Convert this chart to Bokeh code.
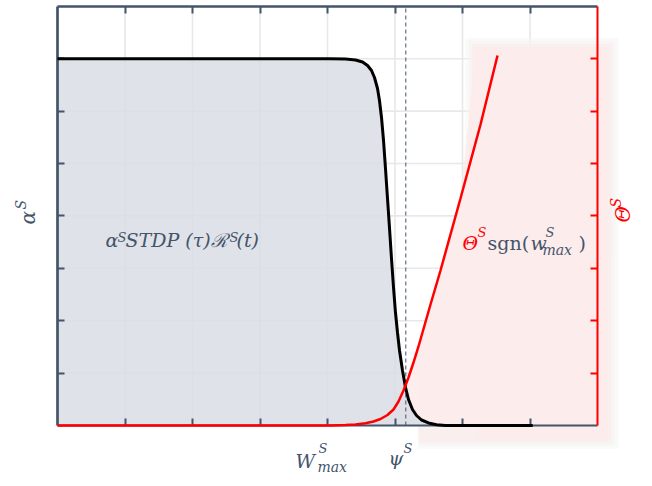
from bokeh.plotting import figure
from bokeh.models import LinearAxis, FixedTicker, Label, Range1d, Grid
from bokeh.embed import file_html
from bokeh.resources import INLINE

# --- values ---------------------------------------------------------------
# STDP amplitude curve (black): plateau, then a steep fall around psi
alpha_x = [0.0, 4.04, 4.267, 4.415, 4.519, 4.593, 4.652, 4.696, 4.741, 4.770,
           4.800, 4.830, 4.859, 4.889, 4.919, 4.948, 4.978, 5.007, 5.037,
           5.067, 5.111, 5.156, 5.200, 5.259, 5.319, 5.393, 5.496, 5.615,
           5.748, 7.04]
alpha_y = [7.0, 7.0, 6.994, 6.975, 6.937, 6.870, 6.775, 6.641, 6.431, 6.202,
           5.878, 5.439, 4.905, 4.332, 3.760, 3.187, 2.634, 2.156, 1.775,
           1.431, 1.050, 0.725, 0.496, 0.305, 0.191, 0.105, 0.048, 0.013,
           0.0, 0.0]

# Theta curve (red): zero, soft knee, then linear growth
theta_x = [0.0, 4.04, 4.267, 4.415, 4.563, 4.681, 4.785, 4.889, 4.978, 5.052,
           5.126, 5.200, 5.274, 5.348, 5.437, 5.526, 5.674, 5.970, 6.267,
           6.519]
theta_y = [0.0, 0.0, 0.008, 0.019, 0.042, 0.076, 0.124, 0.200, 0.305, 0.458,
           0.668, 0.916, 1.202, 1.508, 1.908, 2.309, 2.958, 4.332, 5.744,
           7.061]

psi = 5.16                     # threshold marker
grid_ticks = [1, 2, 3, 4, 5, 6, 7]
box = (0, 8)                   # extent of the framed panel (both axes)

SLATE = "#44546a"
RED = "#ff0000"
SERIF = "DejaVu Serif"

W, H = 652, 486
# pixel layout of the framed panel inside the canvas
X0, SX = 57.0, 67.5            # left edge, pixels per x unit
Y0, SY = 425.0, 52.4           # bottom edge, pixels per y unit

p = figure(width=W, height=H, title=None,
           x_range=Range1d(-X0 / SX, (W - X0) / SX),
           y_range=Range1d((Y0 - H) / SY, Y0 / SY),
           output_backend="svg", toolbar_location=None,
           x_axis_location=None, y_axis_location=None, min_border=0)
p.outline_line_color = None
p.background_fill_color = "white"
p.border_fill_color = "white"
# no full-canvas grid; the panel grid is drawn below
for r in list(p.center):
    if isinstance(r, Grid):
        r.visible = False

# light grid limited to the panel
p.segment(x0=grid_ticks, y0=[box[0]] * 7, x1=grid_ticks, y1=[box[1]] * 7,
          line_color="#e8e8e8", line_width=1.6)
p.segment(x0=[box[0]] * 7, y0=grid_ticks, x1=[box[1]] * 7, y1=grid_ticks,
          line_color="#e8e8e8", line_width=1.6)

# pink zone: below the Theta curve plus the band to its right
zone_left, zone_top, zone_right, zone_bottom = 6.2, 7.21, 8.15, -0.25
zx = [x for x in theta_x if 4.2 <= x <= zone_left]
zy = [y for x, y in zip(theta_x, theta_y) if 4.2 <= x <= zone_left]
hx = [x for x in theta_x if 5.3 <= x <= zone_left]
hy = [y for x, y in zip(theta_x, theta_y) if 5.3 <= x <= zone_left]

# soft halo around the band, fading outwards in steps
for pad, col, a in ((0.16, "#f5f5f5", 0.5), (0.11, "#f6f1f1", 0.6),
                    (0.06, "#faeceb", 0.7)):
    p.patch(hx + [zone_left - pad, zone_left - pad, zone_right + pad,
                  zone_right + pad, hx[0], hx[0]],
            hy + [hy[-1], zone_top + pad * 1.2, zone_top + pad * 1.2,
                  zone_bottom - pad * 1.2, zone_bottom - pad * 1.2, 0],
            fill_color=col, fill_alpha=a, line_color=None)
p.patch(zx + [zone_left, zone_right, zone_right, zone_left, zone_left, zx[0]],
        zy + [zone_top, zone_top, zone_bottom, zone_bottom, 0, 0],
        fill_color="#fdebea", fill_alpha=0.85, line_color=None)

# grey area under the STDP curve
p.varea(x=alpha_x, y1=[0] * len(alpha_x), y2=alpha_y,
        fill_color="#d9dde4", fill_alpha=0.85)

# frame axes fixed to the panel edges, inward ticks, no numbers
for loc, fixed, col, lw in (("left", box[0], SLATE, 2.7),
                            ("above", box[1], SLATE, 2.3),
                            ("below", box[0], SLATE, 2.0),
                            ("right", box[1], RED, 2.0)):
    ax = LinearAxis(ticker=FixedTicker(ticks=grid_ticks), bounds=box,
                    fixed_location=fixed,
                    major_tick_in=7, major_tick_out=0,
                    major_tick_line_color=col, major_tick_line_width=2,
                    minor_tick_line_color=None,
                    axis_line_color=col, axis_line_width=lw,
                    major_label_text_color=None,
                    major_label_text_font_size="0px",
                    major_label_standoff=0)
    p.add_layout(ax, loc)

# threshold psi
p.line([psi, psi], list(box), line_color=SLATE, line_width=1,
       line_dash="4 3")

p.line(alpha_x, alpha_y, line_color="black", line_width=3, level="overlay")
p.line(theta_x, theta_y, line_color=RED, line_width=2.5, level="overlay")

BASE = 0.42   # baseline correction as a fraction of the font size


def put(text, px, base_py, size, color=SLATE, style="italic"):
    """Horizontal text; (px, base_py) is the baseline start in canvas pixels."""
    p.add_layout(Label(x=px, y=H - (base_py - BASE * size),
                       x_units="screen", y_units="screen",
                       text=text, text_font=SERIF, text_font_size=f"{size}px",
                       text_font_style=style, text_color=color,
                       text_baseline="alphabetic"))


def put_up(text, base_px, py, size, color=SLATE, style="italic"):
    """Text reading upwards; base_px is the baseline column, py its start."""
    p.add_layout(Label(x=base_px - BASE * size, y=H - py,
                       x_units="screen", y_units="screen",
                       text=text, text_font=SERIF, text_font_size=f"{size}px",
                       text_font_style=style, text_color=color,
                       text_baseline="alphabetic", angle=1.5708))


# inner label: alpha^S STDP(tau) R^S(t)
put("α", 105, 247, 19)
put("S", 117, 242, 13)
put("STDP (τ)ℛ", 125, 247, 19)
put("S", 229, 242, 13)
put("(t)", 236, 247, 19)

# Theta^S sgn(w^S_max)
put("Θ", 462, 250, 19, RED)
put("S", 477, 237, 13, RED)
put("sgn(", 487, 250, 19, SLATE, "normal")
put("w", 530, 250, 19)
put("S", 545, 237, 13)
put("max", 542, 255, 14)
put(")", 578, 250, 19, SLATE, "normal")

# x-axis markers
put("W", 295, 468, 19)
put("S", 318, 453, 13)
put("max", 317, 472, 14)
put("ψ", 388, 465, 19)
put("S", 403, 453, 13)

# rotated axis titles
put_up("α", 36, 224, 20)
put_up("S", 26, 209, 14)
put_up("Θ", 631, 222, 20, RED)
put_up("S", 621, 207, 14, RED)

open("out.html", "w").write(file_html(p, INLINE))
